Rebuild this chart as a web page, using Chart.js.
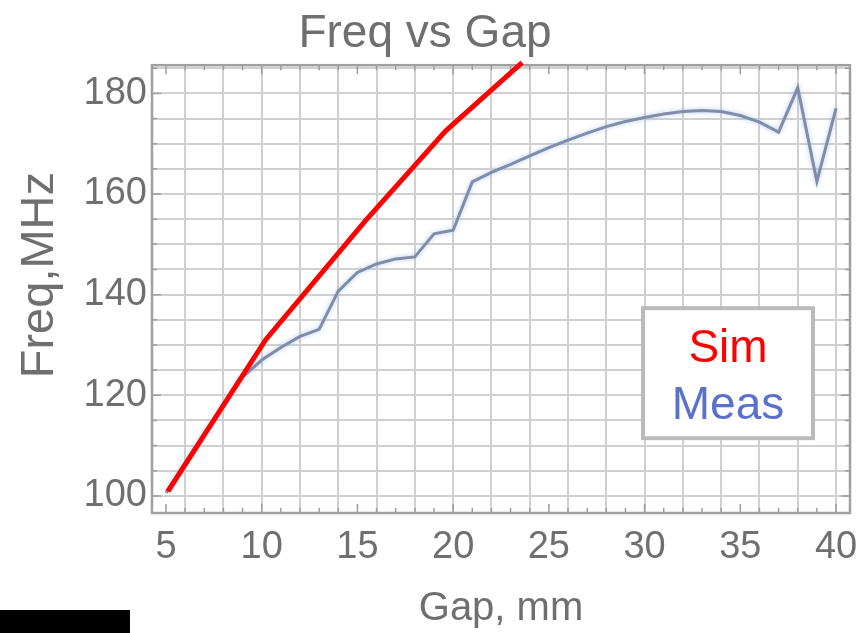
<!DOCTYPE html>
<html>
<head>
<meta charset="utf-8">
<title>Freq vs Gap</title>
<script src="https://cdn.jsdelivr.net/npm/chart.js@4.4.1/dist/chart.umd.min.js"></script>
<style>
  html, body { margin: 0; padding: 0; background: #ffffff; }
  #wrap { position: relative; width: 867px; height: 633px; overflow: hidden; }
  #chart { display: block; }
  #bar { position: absolute; left: 0; top: 610px; width: 130px; height: 23px; background: #000; }
</style>
</head>
<body>
<div id="wrap">
  <canvas id="chart" width="867" height="633"></canvas>
  <div id="bar"></div>
</div>
<script>
// Simulated resonance (gap in mm -> frequency in MHz)
const gapSim  = [5.1, 10.2, 15.4, 19.6, 23.6];
const freqSim = [100.9, 131.0, 154.6, 172.5, 186.1];

// Measured resonance
const gapMeas  = [5, 6, 7, 8, 9, 10, 11, 12, 13, 14, 15, 16, 17, 18, 19, 20, 21, 22,
                  23, 24, 25, 26, 27, 28, 29, 30, 31, 32, 33, 34, 35, 36, 37, 38, 39, 40];
const freqMeas = [100.6, 106.6, 112.4, 118.0, 123.6, 127.0, 129.5, 131.7, 133.1, 140.7,
                  144.4, 146.1, 147.1, 147.5, 152.1, 152.8, 162.4, 164.3, 165.9, 167.6,
                  169.2, 170.7, 172.1, 173.4, 174.4, 175.2, 175.9, 176.4, 176.6, 176.4,
                  175.6, 174.3, 172.3, 181.1, 162.5, 177.0];

// Axis tick labels, grid lines and frame tick marks
const xTickLabels = [5, 10, 15, 20, 25, 30, 35, 40];
const yTickLabels = [100, 120, 140, 160, 180];
const xGridLines  = [6, 8, 10, 12, 14, 16, 18, 20, 22, 24, 26, 28, 30, 32, 34, 36, 38, 40];
const yGridLines  = [100, 105, 110, 115, 120, 125, 130, 135, 140, 145, 150, 155, 160,
                     165, 170, 175, 180, 185];
const xTickMarks  = [5, 6, 7, 8, 9, 10, 11, 12, 13, 14, 15, 16, 17, 18, 19, 20, 21, 22,
                     23, 24, 25, 26, 27, 28, 29, 30, 31, 32, 33, 34, 35, 36, 37, 38, 39, 40];
const yTickMarks  = yGridLines;

const yAxisTitle = 'Freq,MHz';
const textGray = '#6f6f6f';
const gridGray = '#d0d0d0';
const legendColors = ['#ff0000', '#5a71cc'];
const FONT = '"Liberation Sans", Arial, sans-serif';

const toPoints = (xs, ys) => xs.map((v, i) => ({ x: v, y: ys[i] }));
const uniqueSorted = arr => Array.from(new Set(arr)).sort((a, b) => a - b);

// Frame with inward tick marks around the plot area
const framePlugin = {
  id: 'frame',
  beforeDatasetsDraw(chart) {
    const { ctx, chartArea: a, scales: { x, y } } = chart;
    ctx.save();
    ctx.strokeStyle = '#9c9c9c';
    ctx.lineWidth = 1.5;
    ctx.beginPath();
    xTickMarks.forEach(v => {
      const px = x.getPixelForValue(v);
      const len = xTickLabels.includes(v) ? 9 : 5;
      ctx.moveTo(px, a.bottom); ctx.lineTo(px, a.bottom - len);
      ctx.moveTo(px, a.top);    ctx.lineTo(px, a.top + len);
    });
    yTickMarks.forEach(v => {
      const py = y.getPixelForValue(v);
      const len = yTickLabels.includes(v) ? 9 : 5;
      ctx.moveTo(a.left, py);  ctx.lineTo(a.left + len, py);
      ctx.moveTo(a.right, py); ctx.lineTo(a.right - len, py);
    });
    ctx.stroke();
    ctx.lineWidth = 2.5;
    ctx.strokeStyle = '#a0a0a0';
    ctx.strokeRect(a.left, a.top, a.right - a.left, a.bottom - a.top);
    ctx.restore();
  }
};

// Rotated y-axis title, centred a little above the middle of the plot
const yTitlePlugin = {
  id: 'yTitle',
  afterDraw(chart) {
    const { ctx, chartArea: a } = chart;
    ctx.save();
    ctx.translate(40, (a.top + a.bottom) / 2 - 14);
    ctx.rotate(-Math.PI / 2);
    ctx.font = '47px ' + FONT;
    ctx.fillStyle = textGray;
    ctx.textAlign = 'center';
    ctx.textBaseline = 'middle';
    ctx.fillText(yAxisTitle, 0, 0);
    ctx.restore();
  }
};

// Soft glow under the measured curve
const glowPlugin = {
  id: 'glow',
  beforeDatasetDraw(chart, args) {
    if (args.index !== 1) return;
    const ctx = chart.ctx;
    ctx.save();
    ctx.shadowColor = 'rgba(160,190,230,0.8)';
    ctx.shadowBlur = 5;
  },
  afterDatasetDraw(chart, args) {
    if (args.index !== 1) return;
    chart.ctx.restore();
  }
};

// Boxed legend with coloured series names inside the plot
const boxLegendPlugin = {
  id: 'boxLegend',
  afterDatasetsDraw(chart) {
    const { ctx, chartArea: a } = chart;
    const w = 170, h = 130;
    const left = a.right - 37 - w;
    const top = a.top + 243;
    ctx.save();
    ctx.fillStyle = '#ffffff';
    ctx.fillRect(left, top, w, h);
    ctx.lineWidth = 4;
    ctx.strokeStyle = '#bababa';
    ctx.strokeRect(left, top, w, h);
    ctx.font = '46px ' + FONT;
    ctx.textAlign = 'center';
    ctx.textBaseline = 'alphabetic';
    chart.data.datasets.forEach((ds, i) => {
      ctx.fillStyle = legendColors[i];
      ctx.fillText(ds.label, left + w / 2, top + 54 + i * 57);
    });
    ctx.restore();
  }
};

new Chart(document.getElementById('chart'), {
  type: 'line',
  data: {
    datasets: [
      {
        label: 'Sim',
        data: toPoints(gapSim, freqSim),
        borderColor: '#ff0000',
        borderWidth: 5,
        pointRadius: 0,
        tension: 0,
        clip: 8
      },
      {
        label: 'Meas',
        data: toPoints(gapMeas, freqMeas),
        borderColor: 'rgb(128,140,168)',
        borderWidth: 3,
        pointRadius: 0,
        tension: 0
      }
    ]
  },
  options: {
    responsive: false,
    devicePixelRatio: 1,
    animation: false,
    events: [],
    layout: { padding: { left: 0, right: 17, top: 0, bottom: 0 } },
    plugins: {
      legend: { display: false },
      tooltip: { enabled: false },
      title: {
        display: true,
        text: 'Freq vs Gap',
        color: textGray,
        font: { family: FONT, size: 46, weight: 'normal' },
        padding: { top: 7, bottom: 3 }
      }
    },
    scales: {
      x: {
        type: 'linear',
        min: 4.27,
        max: 40.73,
        afterBuildTicks: s => { s.ticks = uniqueSorted(xGridLines.concat(xTickLabels)).map(v => ({ value: v })); },
        afterFit: s => { s.height = 120; s.paddingLeft = 0; s.paddingRight = 0; },
        border: { display: false },
        grid: {
          drawTicks: false,
          lineWidth: 2,
          color: c => (c.tick && xGridLines.includes(c.tick.value)) ? gridGray : 'rgba(0,0,0,0)'
        },
        ticks: {
          autoSkip: false,
          maxRotation: 0,
          padding: 12,
          color: textGray,
          font: { family: FONT, size: 38 },
          callback: v => xTickLabels.includes(v) ? String(v) : ''
        },
        title: {
          display: true,
          text: 'Gap, mm',
          color: textGray,
          font: { family: FONT, size: 40 },
          padding: { top: 0, bottom: 0 }
        }
      },
      y: {
        type: 'linear',
        min: 96.6,
        max: 185.6,
        afterBuildTicks: s => { s.ticks = uniqueSorted(yGridLines.concat(yTickLabels)).map(v => ({ value: v })); },
        afterFit: s => { s.width = 152; s.paddingTop = 0; s.paddingBottom = 0; },
        border: { display: false },
        grid: {
          drawTicks: false,
          lineWidth: 2,
          color: c => (c.tick && yGridLines.includes(c.tick.value)) ? gridGray : 'rgba(0,0,0,0)'
        },
        ticks: {
          autoSkip: false,
          padding: 5,
          color: textGray,
          font: { family: FONT, size: 38 },
          callback: v => yTickLabels.includes(v) ? String(v) : ''
        },
        title: { display: false }
      }
    }
  },
  plugins: [framePlugin, glowPlugin, boxLegendPlugin, yTitlePlugin]
});
</script>
</body>
</html>
